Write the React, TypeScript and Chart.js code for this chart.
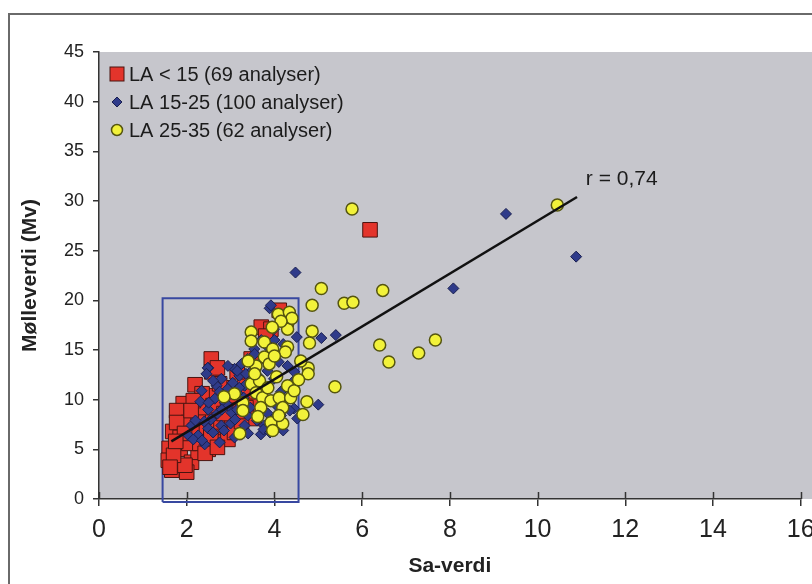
import { useEffect, useRef } from 'react';
import { Chart, registerables } from 'chart.js';

Chart.register(...registerables);

// LA < 15 (red squares)
const redPoints: [number, number][] = [
  [3.70, 17.3], [4.11, 19.0], [2.56, 14.1], [2.57, 12.8], [2.19, 11.5], [1.92, 9.6], [1.77, 8.9],
  [1.68, 6.8], [1.60, 5.1], [1.58, 3.9], [1.66, 2.9], [1.85, 5.0], [2.11, 3.7], [2.00, 2.7],
  [2.26, 4.7], [2.49, 5.0], [2.38, 6.4], [2.64, 5.7], [2.79, 6.4], [2.87, 7.2], [2.49, 8.1],
  [2.04, 7.7], [2.26, 8.4], [2.94, 8.1], [2.79, 9.1], [3.09, 9.1], [3.24, 10.1], [3.32, 12.1],
  [2.64, 10.4], [3.54, 9.4], [3.54, 8.1], [2.94, 6.0], [3.09, 6.7], [3.92, 17.1], [3.47, 14.1],
  [2.41, 9.2], [1.77, 7.7], [6.18, 27.1], [1.96, 3.4], [1.70, 4.4], [1.85, 6.2], [2.05, 5.6],
  [2.20, 6.9], [2.70, 7.4], [2.95, 11.2], [3.15, 12.8], [2.35, 10.6], [2.75, 11.6], [3.00, 9.8],
  [2.60, 9.4], [3.40, 10.8], [2.15, 9.9], [1.95, 6.6], [2.45, 7.2], [3.25, 7.8], [2.85, 8.6],
  [1.75, 5.8], [2.30, 5.6], [3.65, 11.0], [2.70, 13.2], [3.05, 10.4], [2.10, 8.9], [2.55, 6.3],
  [3.20, 8.8], [1.62, 3.2], [2.42, 4.6], [2.70, 5.2], [3.80, 16.4], [3.35, 9.2],
];

// LA 15-25 (blue diamonds)
const bluePoints: [number, number][] = [
  [4.48, 22.8], [8.08, 21.2], [9.28, 28.7], [10.88, 24.4], [5.07, 16.2], [5.40, 16.5], [5.00, 9.5],
  [4.51, 16.3], [3.89, 19.2],
  [3.92, 19.5], [3.99, 17.1], [3.54, 15.1], [3.39, 14.1], [3.09, 13.1], [2.94, 13.4], [3.20, 12.4],
  [2.79, 12.1], [2.49, 13.2], [2.68, 11.4], [2.94, 11.1], [3.32, 11.4], [3.17, 10.6], [2.34, 10.9],
  [2.64, 10.1], [2.49, 9.0], [2.87, 9.7], [3.02, 8.7], [3.39, 8.4], [3.69, 8.9], [3.77, 7.4],
  [3.69, 6.5], [4.45, 9.1], [4.52, 8.1], [4.15, 8.4], [2.79, 7.4], [2.49, 7.1], [2.26, 6.4],
  [2.11, 7.4], [2.04, 6.4], [2.41, 5.5], [2.75, 5.7], [3.09, 6.2], [3.32, 7.4], [4.30, 13.4],
  [4.45, 12.8], [3.99, 12.1], [4.22, 11.1], [3.84, 12.9], [3.62, 12.4], [2.31, 9.8], [2.48, 13.2],
  [2.45, 12.6], [2.60, 11.9], [2.75, 10.8], [2.90, 10.2], [3.05, 11.7], [3.15, 12.9], [3.25, 13.6],
  [3.35, 12.6], [3.45, 11.9], [3.55, 11.1], [3.65, 10.3], [3.75, 9.6], [3.85, 8.6], [3.95, 8.0],
  [4.05, 9.4], [4.15, 10.8], [4.25, 9.9], [4.35, 8.9], [4.42, 11.8], [4.10, 13.8], [3.80, 13.9],
  [3.50, 13.0], [3.20, 11.2], [2.95, 9.4], [2.70, 8.6], [2.55, 8.0], [2.40, 7.8], [2.20, 7.9],
  [2.15, 6.0], [2.35, 5.9], [2.60, 6.7], [2.85, 6.9], [3.00, 7.6], [3.15, 9.0], [3.30, 10.2],
  [3.45, 9.2], [3.60, 7.9], [3.75, 7.0], [3.90, 6.7], [4.20, 6.9], [3.10, 8.0], [2.80, 9.0],
  [2.50, 9.7], [3.40, 6.6], [3.55, 14.6], [3.70, 16.0], [3.85, 15.3], [4.00, 16.0], [4.20, 15.6],
];

// LA 25-35 (yellow circles)
const yellowPoints: [number, number][] = [
  [5.07, 21.2], [4.86, 19.5], [5.59, 19.7], [5.79, 19.8], [6.47, 21.0], [5.77, 29.2], [10.45, 29.6],
  [6.40, 15.5], [6.61, 13.8], [7.29, 14.7], [7.67, 16.0], [5.38, 11.3], [4.86, 16.9], [4.80, 15.7],
  [4.77, 13.2], [4.77, 12.6], [4.74, 9.8], [4.65, 8.5], [4.30, 15.3],
  [3.47, 16.8], [3.47, 15.9], [3.77, 15.8], [4.09, 18.6], [4.34, 18.8], [4.30, 17.6], [4.30, 17.1],
  [3.96, 15.1], [3.77, 14.3], [3.58, 13.4], [3.88, 13.6], [4.60, 13.9], [3.47, 11.6], [3.66, 11.9],
  [3.09, 10.6], [3.58, 10.7], [3.73, 10.2], [3.92, 9.9], [4.11, 10.2], [4.30, 11.4], [4.37, 10.2],
  [3.28, 9.7], [3.28, 8.9], [3.69, 9.2], [4.19, 9.2], [3.92, 7.7], [4.19, 7.6], [3.96, 6.9],
  [3.21, 6.6], [4.40, 18.2], [4.15, 17.9], [3.55, 12.6], [4.05, 12.3], [4.45, 10.9], [3.85, 11.2],
  [4.10, 8.4], [4.55, 12.0], [3.62, 8.3], [4.25, 14.8], [3.95, 17.3], [2.85, 10.3], [4.00, 14.4],
  [3.40, 13.9],
];

const trendLine: [number, number][] = [[1.65, 5.8], [10.9, 30.4]];
const boxOutline: [number, number][] = [[1.45, -0.3], [4.55, -0.3], [4.55, 20.2], [1.45, 20.2], [1.45, -0.3]];

const seriesLabels = ['LA < 15 (69 analyser)', 'LA 15-25 (100 analyser)', 'LA 25-35 (62 analyser)'];
const rLabel = 'r = 0,74';
const rLabelPos: [number, number] = [11.1, 32.2];

const xTitle = 'Sa-verdi';
const yTitle = 'Mølleverdi (Mv)';
const xMin = 0, xMax = 16, xStep = 2;
const yMin = 0, yMax = 45, yStep = 5;

const FONT = "'Liberation Sans', Arial, sans-serif";
const RED = '#e3342b', RED_B = '#4a1410';
const BLUE = '#2f3b8a', BLUE_B = '#1a2050';
const YEL = '#f2f23a', YEL_B = '#55550f';

const toXY = (a: [number, number][]) => a.map(([x, y]) => ({ x, y }));

export default function App() {
  const ref = useRef<HTMLCanvasElement | null>(null);
  useEffect(() => {
    if (!ref.current) return;
    const bgPlugin = {
      id: 'bg',
      beforeDraw(chart: any) {
        const { ctx, chartArea: a, width, height } = chart;
        ctx.save();
        ctx.fillStyle = '#ffffff';
        ctx.fillRect(0, 0, width, height);
        ctx.fillStyle = '#c6c6cc';
        ctx.fillRect(a.left, a.top, width - a.left, a.bottom - a.top);
        ctx.strokeStyle = '#6a6a6a';
        ctx.lineWidth = 2;
        ctx.beginPath();
        ctx.moveTo(9, height);
        ctx.lineTo(9, 14);
        ctx.lineTo(width, 14);
        ctx.stroke();
        ctx.restore();
      },
      afterDraw(chart: any) {
        const { ctx, chartArea: a, scales } = chart;
        const xs = scales.x, ys = scales.y;
        ctx.save();
        // inner part of x ticks
        ctx.strokeStyle = '#333';
        ctx.lineWidth = 1.5;
        for (let v = xMin; v <= xMax; v += xStep) {
          const px = Math.round(xs.getPixelForValue(v)) + 0.5;
          ctx.beginPath();
          ctx.moveTo(px, a.bottom);
          ctx.lineTo(px, a.bottom - 7);
          ctx.stroke();
        }
        // legend
        const lx = a.left + 18;
        const rows = [a.top + 22, a.top + 50, a.top + 78];
        ctx.fillStyle = RED; ctx.strokeStyle = RED_B; ctx.lineWidth = 1;
        ctx.fillRect(lx - 7, rows[0] - 7, 14, 14);
        ctx.strokeRect(lx - 7, rows[0] - 7, 14, 14);
        ctx.fillStyle = BLUE; ctx.strokeStyle = BLUE_B;
        ctx.beginPath();
        ctx.moveTo(lx, rows[1] - 5); ctx.lineTo(lx + 5, rows[1]); ctx.lineTo(lx, rows[1] + 5); ctx.lineTo(lx - 5, rows[1]);
        ctx.closePath(); ctx.fill(); ctx.stroke();
        ctx.fillStyle = YEL; ctx.strokeStyle = YEL_B; ctx.lineWidth = 1.5;
        ctx.beginPath(); ctx.arc(lx, rows[2], 5.5, 0, Math.PI * 2); ctx.fill(); ctx.stroke();
        ctx.fillStyle = '#1c1c1c';
        ctx.font = `20px ${FONT}`;
        ctx.textAlign = 'left';
        ctx.textBaseline = 'middle';
        seriesLabels.forEach((t, i) => ctx.fillText(t, lx + 12, rows[i] + 1));
        ctx.font = `21px ${FONT}`;
        ctx.fillText(rLabel, xs.getPixelForValue(rLabelPos[0]), ys.getPixelForValue(rLabelPos[1]));
        ctx.restore();
      },
    };

    const chart = new Chart(ref.current, {
      type: 'scatter',
      data: {
        datasets: [
          {
            label: 'trend', data: toXY(trendLine), showLine: true, pointRadius: 0,
            borderColor: '#111111', borderWidth: 2.5, order: 0,
          } as any,
          {
            label: seriesLabels[2], data: toXY(yellowPoints), pointStyle: 'circle', pointRadius: 6,
            backgroundColor: YEL, borderColor: YEL_B, borderWidth: 1.5, order: 1,
          },
          {
            label: seriesLabels[1], data: toXY(bluePoints), pointStyle: 'rectRot', pointRadius: 5.5,
            backgroundColor: BLUE, borderColor: BLUE_B, borderWidth: 1, order: 2,
          },
          {
            label: seriesLabels[0], data: toXY(redPoints), pointStyle: 'rect', pointRadius: 10.3,
            backgroundColor: RED, borderColor: RED_B, borderWidth: 1, order: 3,
          },
          {
            label: 'box', data: toXY(boxOutline), showLine: true, pointRadius: 0,
            borderColor: '#3848a0', borderWidth: 2, clip: false, order: 4,
          } as any,
        ],
      },
      options: {
        animation: false,
        responsive: false,
        events: [],
        layout: { padding: { top: 52, right: 7, left: 0, bottom: 0 } },
        plugins: { legend: { display: false }, tooltip: { enabled: false } },
        scales: {
          x: {
            type: 'linear', min: xMin, max: xMax,
            ticks: { stepSize: xStep, color: '#222', font: { family: FONT, size: 25 }, padding: 9, maxRotation: 0 },
            grid: { drawOnChartArea: false, drawTicks: true, tickLength: 7, color: '#333', lineWidth: 1.5 },
            border: { color: '#333', width: 1.5 },
            title: { display: true, text: xTitle, color: '#222', font: { family: FONT, size: 21, weight: 'bold' }, padding: { top: 0, bottom: 5 } },
            afterFit: (s: any) => { s.height = 85; s.paddingLeft = 0; s.paddingRight = 0; },
          },
          y: {
            type: 'linear', min: yMin, max: yMax,
            ticks: { stepSize: yStep, color: '#222', font: { family: FONT, size: 18 }, padding: 9 },
            grid: { drawOnChartArea: false, drawTicks: true, tickLength: 6, color: '#333', lineWidth: 1.5 },
            border: { color: '#333', width: 1.5 },
            title: { display: true, text: yTitle, color: '#222', font: { family: FONT, size: 21, weight: 'bold' }, padding: { top: 18, bottom: 0 } },
            afterFit: (s: any) => { s.width = 99; s.paddingTop = 0; s.paddingBottom = 0; },
          },
        },
      },
      plugins: [bgPlugin],
    });
    return () => chart.destroy();
  }, []);

  return (
    <div style={{ position: 'absolute', left: 0, top: 0, width: 812, height: 584 }}>
      <canvas ref={ref} width={812} height={584} style={{ width: 812, height: 584, display: 'block' }} />
    </div>
  );
}
